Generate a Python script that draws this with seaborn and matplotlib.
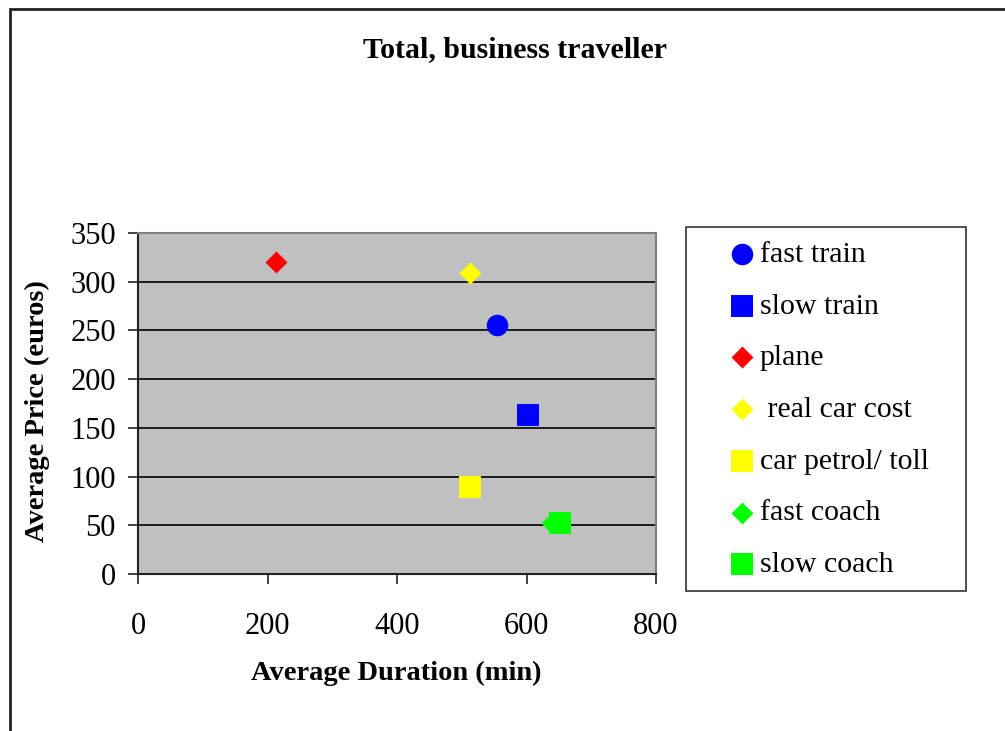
import matplotlib
matplotlib.use("Agg")
import matplotlib.pyplot as plt
from matplotlib.patches import Rectangle
import seaborn as sns

# Travel options for a business traveller: average duration vs average price
modes = ["fast train", "slow train", "plane", " real car cost",
         "car petrol/ toll", "fast coach", "slow coach"]
duration_min = [555, 602, 213, 513, 513, 640, 652]
price_eur = [256, 163, 320, 309, 89, 52, 52]
colors = ["#0000FF", "#0000FF", "#FF0000", "#FFFF00", "#FFFF00", "#00FF00", "#00FF00"]
markers = ["o", "s", "D", "D", "s", "D", "s"]

x_ticks = [0, 200, 400, 600, 800]
y_ticks = [0, 50, 100, 150, 200, 250, 300, 350]

sns.set_theme(style="white")
plt.rcParams["font.family"] = ["Liberation Serif", "DejaVu Serif"]
plt.rcParams["text.color"] = "black"
plt.rcParams["axes.labelcolor"] = "black"

W, H = 1005, 731
fig = plt.figure(figsize=(W / 100, H / 100), dpi=100)
ax = fig.add_axes([138 / W, 1 - 574 / H, 518 / W, 341 / H])
ax.set_facecolor("#C0C0C0")

marker_area = {"o": 15.5 ** 2, "s": 15.5 ** 2, "D": 11.2 ** 2}
for name, xv, yv, c, m in zip(modes, duration_min, price_eur, colors, markers):
    sns.scatterplot(x=[xv], y=[yv], ax=ax, color=c, marker=m,
                    s=marker_area[m], linewidth=0, label=name, zorder=3)

ax.set_xlim(0, 800)
ax.set_ylim(0, 350)
ax.set_xticks(x_ticks)
ax.set_yticks(y_ticks)
ax.yaxis.grid(True, color="black", linewidth=1.2)
ax.set_axisbelow(True)

for side in ("top", "right"):
    ax.spines[side].set_color("#808080")
    ax.spines[side].set_linewidth(1.5)
for side in ("left", "bottom"):
    ax.spines[side].set_color("#222222")
    ax.spines[side].set_linewidth(1.5)

ax.tick_params(axis="both", which="major", direction="out", length=7,
               width=1.2, color="#222222", labelsize=22, labelcolor="black",
               left=True, bottom=True)
ax.tick_params(axis="y", pad=9)
ax.tick_params(axis="x", pad=20)

ax.set_xlabel("Average Duration (min)", fontsize=20.5, fontweight="bold", color="black")
ax.set_ylabel("Average Price (euros)", fontsize=20.5, fontweight="bold", color="black")
ax.xaxis.set_label_coords((396 - 138) / 518, (574 - 661) / 341)
ax.yaxis.set_label_coords((50 - 138) / 518, (574 - 411) / 341)

fig.text(515 / W, 1 - 50 / H, "Total, business traveller",
         ha="center", va="center", fontsize=21.5, fontweight="bold", color="black")

# Legend entries inside a plain rectangular box
handles, labels = ax.get_legend_handles_labels()
ax.get_legend().remove()
fig.add_artist(Rectangle((686 / W, 1 - 591 / H), (966 - 686) / W, (591 - 227) / H,
                         transform=fig.transFigure, facecolor="white",
                         edgecolor="#333333", linewidth=1.2, zorder=1))
leg = fig.legend(handles, labels, loc="upper left",
                 bbox_to_anchor=(727 / W, 1 - 241 / H),
                 bbox_transform=fig.transFigure, frameon=False, fontsize=21.5,
                 labelspacing=0.83, handletextpad=0.1, handlelength=1.0,
                 borderpad=0.0, borderaxespad=0.0, labelcolor="black")
leg.set_zorder(5)

# Outer chart frame, open to the right and bottom
fig.add_artist(Rectangle((10 / W, -0.2), 1.5, 1 - 9 / H + 0.2,
                         transform=fig.transFigure, fill=False,
                         edgecolor="#222222", linewidth=2))

fig.savefig("out.png", dpi=100)
